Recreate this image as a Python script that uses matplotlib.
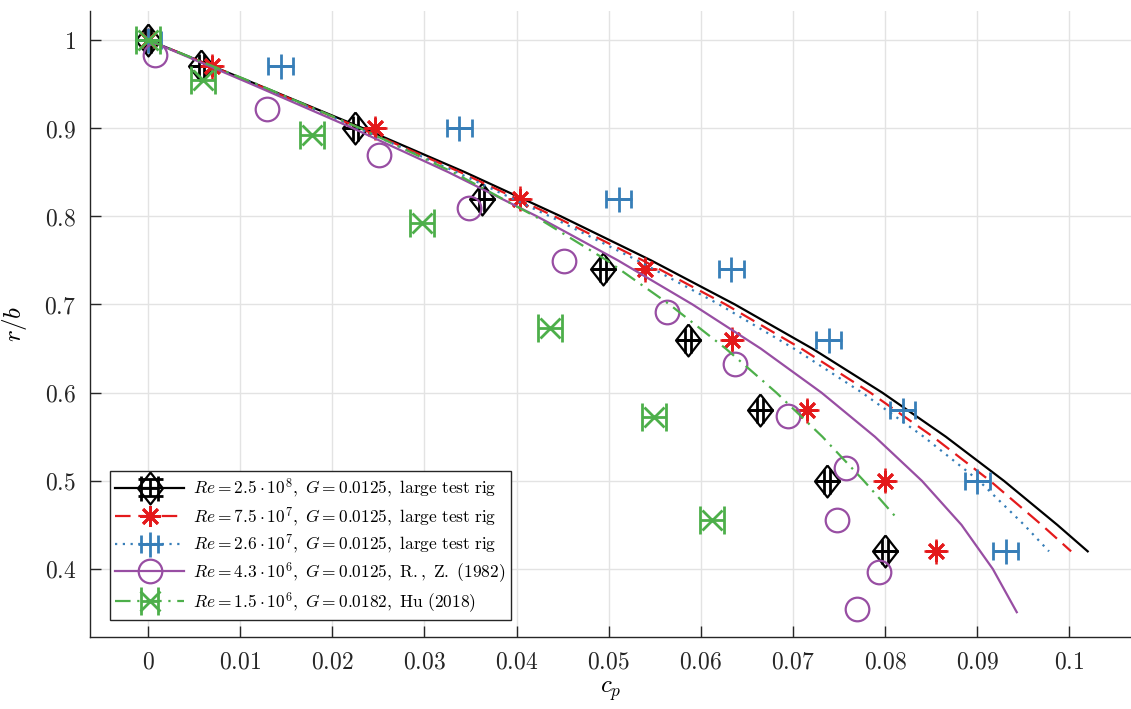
import numpy as np
import matplotlib
matplotlib.use("Agg")
import matplotlib.pyplot as plt
from matplotlib.legend_handler import HandlerTuple
from matplotlib.ticker import FuncFormatter

plt.rcParams["mathtext.fontset"] = "cm"
plt.rcParams["font.family"] = "serif"
plt.rcParams["font.serif"] = ["DejaVu Serif"]

# measured points (large test rig levels)
rb_rig = [1.0, 0.97, 0.90, 0.82, 0.74, 0.66, 0.58, 0.50, 0.42]
cp_black = [0.0, 0.0058, 0.0225, 0.0362, 0.0494, 0.0586, 0.0664, 0.0737, 0.0800]
cp_red = [0.0, 0.0069, 0.0246, 0.0404, 0.0539, 0.0634, 0.0715, 0.0800, 0.0855]
cp_blue = [0.0, 0.0144, 0.0338, 0.0511, 0.0633, 0.0739, 0.0819, 0.0900, 0.0931]

rb_purple = [0.983, 0.922, 0.869, 0.809, 0.749, 0.691, 0.633, 0.574, 0.514, 0.456, 0.397, 0.355]
cp_purple = [0.0008, 0.0129, 0.0251, 0.0348, 0.0452, 0.0563, 0.0637, 0.0695, 0.0758, 0.0748, 0.0793, 0.0770]

rb_green = [1.0, 0.955, 0.892, 0.792, 0.673, 0.572, 0.455]
cp_green = [0.0, 0.0060, 0.0178, 0.0297, 0.0436, 0.0549, 0.0612]

# model curves
rb_line = [1.0, 0.95, 0.90, 0.85, 0.80, 0.75, 0.70, 0.65, 0.60, 0.55, 0.50, 0.45, 0.42]
cp_line_black = [0.0, 0.0117, 0.0233, 0.0344, 0.0448, 0.0546, 0.0637, 0.0721, 0.0797, 0.0866, 0.0929, 0.0987, 0.1020]
cp_line_red = [0.0, 0.0116, 0.0230, 0.0339, 0.0441, 0.0537, 0.0627, 0.0709, 0.0784, 0.0852, 0.0914, 0.0970, 0.1002]
cp_line_blue = [0.0, 0.0115, 0.0228, 0.0335, 0.0436, 0.0531, 0.0620, 0.0701, 0.0775, 0.0842, 0.0902, 0.0951, 0.0978]

rb_line_purple = [1.0, 0.95, 0.90, 0.85, 0.80, 0.75, 0.70, 0.65, 0.60, 0.55, 0.50, 0.45, 0.40, 0.351]
cp_line_purple = [0.0, 0.0112, 0.0222, 0.0326, 0.0422, 0.0510, 0.0591, 0.0665, 0.0731, 0.0789, 0.0840, 0.0883, 0.0917, 0.0943]

rb_line_green = [1.0, 0.95, 0.90, 0.85, 0.80, 0.75, 0.70, 0.65, 0.60, 0.55, 0.50, 0.455]
cp_line_green = [0.0, 0.0118, 0.0230, 0.0331, 0.0420, 0.0498, 0.0566, 0.0627, 0.0682, 0.0732, 0.0777, 0.0815]

labels = [
    r"$Re = 2.5\cdot10^{8},\ G = 0.0125,\ \mathrm{large\ test\ rig}$",
    r"$Re = 7.5\cdot10^{7},\ G = 0.0125,\ \mathrm{large\ test\ rig}$",
    r"$Re = 2.6\cdot10^{7},\ G = 0.0125,\ \mathrm{large\ test\ rig}$",
    r"$Re = 4.3\cdot10^{6},\ G = 0.0125,\ \mathrm{R.,\ Z.\ (1982)}$",
    r"$Re = 1.5\cdot10^{6},\ G = 0.0182,\ \mathrm{Hu\ (2018)}$",
]

c_black = "#000000"
c_red = "#e41a1c"
c_blue = "#377eb8"
c_purple = "#984ea3"
c_green = "#4daf4a"

diamond = [(0, 1), (0.78, 0), (0, -1), (-0.78, 0), (0, 1)]

fig = plt.figure(figsize=(11.31, 7.09), dpi=100)
ax = fig.add_axes([0.0796, 0.1016, 0.9204, 0.883])

handles = []

l1, = ax.plot(cp_line_black, rb_line, color=c_black, lw=1.6)
e1 = ax.errorbar(cp_black, rb_rig, xerr=0.0003, yerr=0.0, fmt="none",
                 ecolor=c_black, elinewidth=2, capsize=9, capthick=2)
m1, = ax.plot(cp_black, rb_rig, ls="none", marker=diamond, ms=23,
              mfc="none", mec=c_black, mew=1.6)
handles.append((l1, e1, m1))

l2, = ax.plot(cp_line_red, rb_line, color=c_red, lw=1.6, dashes=(7, 3.5))
e2 = ax.errorbar(cp_red, rb_rig, xerr=0.0013, yerr=0.014, fmt="none",
                 ecolor=c_red, elinewidth=1.8, capsize=0)
m2, = ax.plot(cp_red, rb_rig, ls="none", marker=(8, 2, 0), ms=15,
              mec=c_red, mew=2)
handles.append((l2, e2, m2))

l3, = ax.plot(cp_line_blue, rb_line, color=c_blue, lw=1.6, dashes=(1, 2.5))
e3 = ax.errorbar(cp_blue, rb_rig, xerr=0.00136, fmt="none",
                 ecolor=c_blue, elinewidth=2, capsize=6.5, capthick=2)
m3, = ax.plot(cp_blue, rb_rig, ls="none", marker="+", ms=18,
              mec=c_blue, mew=2)
handles.append((l3, e3, m3))

l4, = ax.plot(cp_line_purple, rb_line_purple, color=c_purple, lw=1.6)
m4, = ax.plot(cp_purple, rb_purple, ls="none", marker="o", ms=17,
              mfc="none", mec=c_purple, mew=1.6)
handles.append((l4, m4))

l5, = ax.plot(cp_line_green, rb_line_green, color=c_green, lw=1.6,
              dashes=(7, 3, 1, 3))
e5 = ax.errorbar(cp_green, rb_green, xerr=0.0013, fmt="none",
                 ecolor=c_green, elinewidth=2, capsize=10, capthick=2)
m5, = ax.plot(cp_green, rb_green, ls="none", marker="x", ms=14,
              mec=c_green, mew=2)
handles.append((l5, e5, m5))

ax.set_xlim(-0.0063, 0.1067)
ax.set_ylim(0.3229, 1.0329)
ax.set_xticks(np.arange(0, 0.101, 0.01))
ax.set_yticks(np.arange(0.4, 1.01, 0.1))
fmt = FuncFormatter(lambda v, pos: "$%s$" % ("%g" % round(v, 3)))
ax.xaxis.set_major_formatter(fmt)
ax.yaxis.set_major_formatter(fmt)
ax.tick_params(direction="in", length=8, width=1, colors="#262626",
               labelsize=17, pad=10)
ax.grid(True, color="#e3e3e3", lw=1)
ax.set_axisbelow(True)
for s in ["top", "right"]:
    ax.spines[s].set_visible(False)
for s in ["left", "bottom"]:
    ax.spines[s].set_color("#262626")
    ax.spines[s].set_linewidth(1)

ax.set_xlabel(r"$c_p$", fontsize=18, labelpad=4)
ax.set_ylabel(r"$r/b$", fontsize=18, labelpad=11)

leg = ax.legend(handles, labels, loc="lower left", bbox_to_anchor=(0.019, 0.027),
                borderaxespad=0, fontsize=12.5, handlelength=4.0,
                handler_map={tuple: HandlerTuple(ndivide=1, pad=0)},
                fancybox=False, framealpha=1, edgecolor="#262626",
                labelspacing=0.28, borderpad=0.3, handletextpad=0.5)
leg.get_frame().set_linewidth(1)

fig.savefig("out.png", dpi=100)
